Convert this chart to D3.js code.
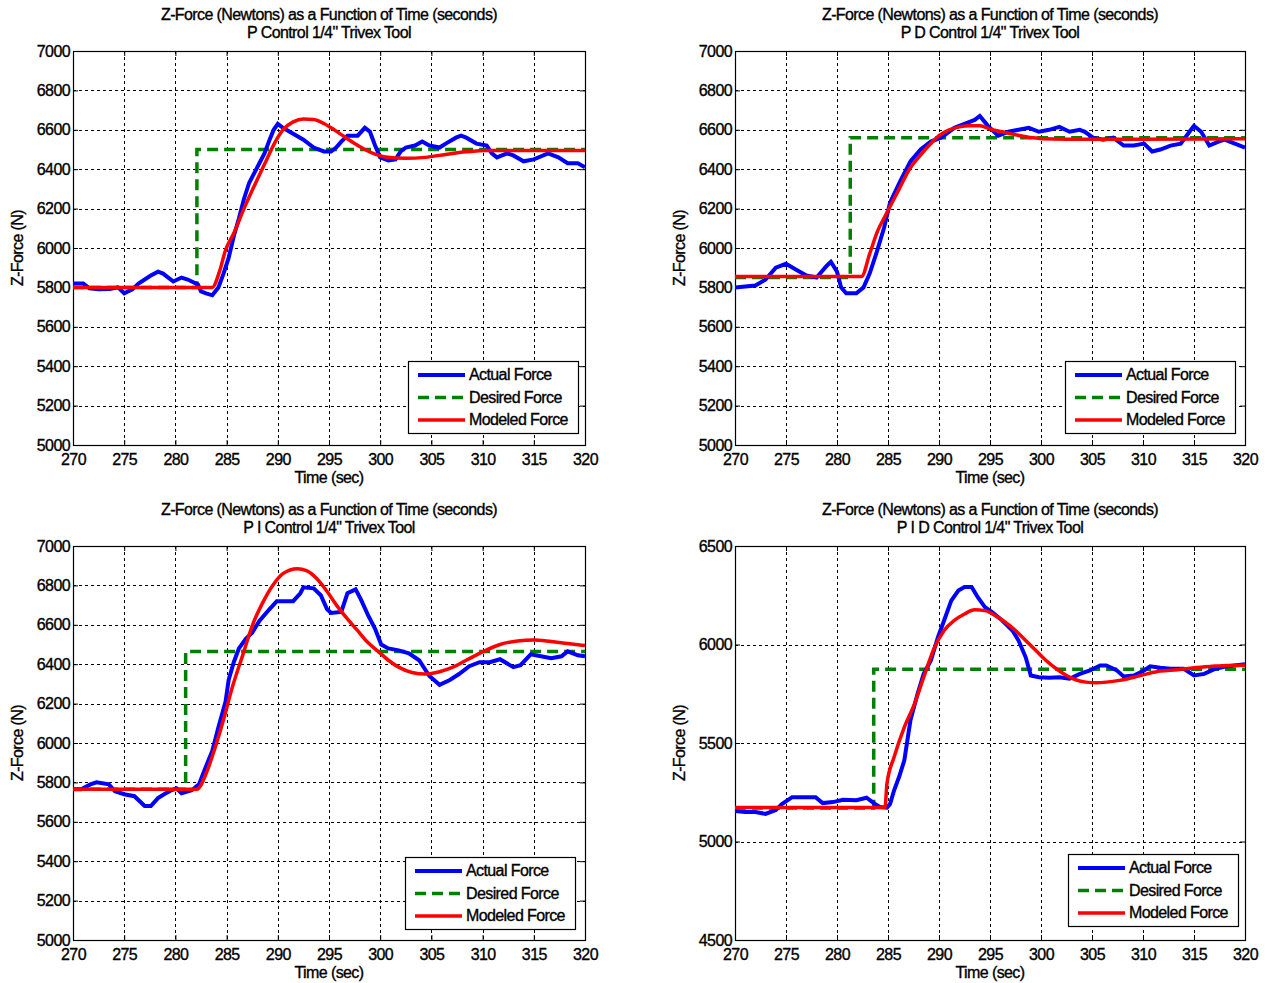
<!DOCTYPE html>
<html>
<head>
<meta charset="utf-8">
<script src="https://cdn.jsdelivr.net/npm/d3@7"></script>
<style>
  body { margin: 0; background: #fff; }
  svg text { font-family: "Liberation Sans", Arial, Helvetica, sans-serif; fill: #000;
             stroke: #000; stroke-width: 0.35px; }
</style>
</head>
<body>
<svg id="chart" width="1265" height="983"></svg>
<script>
// ---- Shared labels and ticks ----
const titleLine1 = "Z-Force (Newtons) as a Function of Time (seconds)";
const controllerTitles = ["P Control 1/4\" Trivex Tool", "P D Control 1/4\" Trivex Tool",
                          "P I Control 1/4\" Trivex Tool", "P I D Control 1/4\" Trivex Tool"];
const xLabel = "Time (sec)";
const yLabel = "Z-Force (N)";
const seriesNames = ["Actual Force", "Desired Force", "Modeled Force"];
const timeTicks = [270, 275, 280, 285, 290, 295, 300, 305, 310, 315, 320];
const forceTicksA = [5000, 5200, 5400, 5600, 5800, 6000, 6200, 6400, 6600, 6800, 7000];
const forceTicksB = [4500, 5000, 5500, 6000, 6500];

// ---- P control: [time s, force N] ----
const pActual = [[270,5820],[271,5820],[271.6,5795],[272.5,5790],[273.6,5792],[274.4,5800],[275,5770],[275.8,5790],
  [276.4,5820],[277,5840],[277.6,5860],[278.3,5880],[278.8,5870],[279.3,5850],[279.8,5830],[280.6,5850],[281.2,5840],
  [281.6,5830],[282.2,5815],[282.5,5780],[283,5770],[283.6,5760],[284.2,5800],[284.7,5870],[285.2,5950],[285.7,6060],
  [286.2,6150],[286.7,6250],[287.2,6330],[287.7,6380],[288.2,6430],[288.7,6480],[289.2,6550],[289.6,6600],[290,6630],
  [290.5,6610],[291.5,6580],[292.5,6550],[293.5,6510],[294.5,6490],[295.2,6490],[295.7,6510],[296.2,6540],[296.8,6570],
  [297.8,6570],[298.5,6610],[299,6590],[299.5,6520],[300,6460],[300.8,6445],[301.5,6450],[302,6490],[302.5,6510],
  [303.4,6520],[304.1,6540],[304.8,6520],[305.8,6510],[306.4,6530],[307.4,6560],[307.9,6570],[308.4,6560],[309.4,6530],
  [310.4,6520],[310.9,6480],[311.4,6460],[312.4,6480],[313,6470],[314,6440],[315,6450],[316.4,6480],[317.4,6460],
  [318.3,6430],[319.3,6430],[320,6410]];
const pDesired = [[270,5800],[282.1,5800],[282.1,6500],[320,6500]];
const pModel = [[270,5800],[283.6,5800],[284.3,5880],[284.9,5990],[285.7,6075],[286.7,6200],[287.7,6315],[288.7,6425],
  [289.7,6534],[290.5,6600],[291.5,6640],[292.5,6655],[293.5,6652],[294.5,6632],[295.5,6600],[296.5,6565],[297.5,6530],
  [298.5,6500],[299.5,6476],[300.5,6462],[302.5,6455],[304.4,6460],[306.4,6475],[308.4,6488],[310.4,6495],[315,6495],[320,6495]];

// ---- PD control ----
const pdActual = [[270,5800],[272,5810],[273,5840],[274,5900],[275,5920],[276,5890],[277,5860],[278,5850],[279,5910],
  [279.4,5930],[280,5880],[280.4,5800],[280.9,5770],[281.9,5770],[282.6,5800],[283.2,5870],[283.9,5980],[284.6,6100],
  [285.2,6230],[286.2,6340],[287.2,6440],[288.2,6500],[289.2,6540],[290.2,6560],[291.5,6610],[292.5,6630],[293.5,6650],
  [294,6670],[294.8,6620],[295.8,6570],[296.8,6590],[297.8,6600],[298.8,6610],[299.8,6590],[300.8,6600],[301.8,6615],
  [302.8,6590],[303.8,6600],[304.3,6590],[305.1,6560],[306.1,6550],[307.1,6560],[308.1,6520],[309.1,6520],[310.1,6530],
  [310.9,6490],[311.7,6500],[312.7,6520],[313.7,6530],[314.7,6600],[315,6620],[315.7,6590],[316.5,6520],[317.4,6540],
  [318,6550],[319,6530],[320,6510]];
const pdDesired = [[270,5850],[281.3,5850],[281.3,6560],[320,6560]];
const pdModel = [[270,5855],[282.4,5855],[283.2,5970],[283.9,6076],[284.9,6180],[286.1,6300],[287.1,6400],[288,6460],
  [289.2,6530],[290,6570],[291,6600],[292,6615],[293,6620],[294,6620],[295.2,6600],[296.2,6590],[297.2,6578],
  [299.1,6560],[300.1,6555],[305,6552],[310,6552],[320,6555]];

// ---- PI control ----
const piActual = [[270,5765],[270.8,5765],[271.7,5790],[272.3,5800],[273.5,5790],[274.1,5755],[275,5740],[276,5730],
  [277,5680],[277.6,5680],[278.3,5720],[278.9,5740],[279.6,5760],[280.1,5770],[280.6,5745],[281.6,5760],[282.3,5790],
  [282.9,5870],[283.6,5960],[284.2,6080],[284.9,6210],[285.2,6320],[285.7,6410],[286.2,6480],[286.9,6530],[287.5,6560],
  [288.2,6620],[289.2,6680],[289.9,6720],[291.5,6720],[292.2,6760],[292.5,6790],[293.5,6785],[294.2,6750],[294.8,6680],
  [295.2,6660],[296.2,6665],[296.8,6760],[297.6,6780],[298.1,6730],[298.8,6650],[299.5,6580],[300.1,6500],[300.8,6480],
  [301.8,6470],[302.8,6455],[303.8,6420],[304.8,6340],[305.8,6295],[306.8,6320],[307.7,6350],[308.7,6390],[309.7,6410],
  [310.7,6410],[311.7,6425],[313,6385],[313.7,6395],[314.7,6450],[315.7,6440],[316.7,6430],[317.7,6440],[318.3,6465],
  [319.3,6445],[320,6440]];
const piDesired = [[270,5765],[281,5765],[281,6465],[320,6465]];
const piModel = [[270,5765],[282.1,5765],[283,5845],[283.9,5980],[284.6,6100],[285.6,6290],[286.6,6450],[287.5,6595],
  [288.5,6710],[289.5,6800],[290.5,6860],[291.9,6885],[292.8,6875],[293.8,6835],[294.8,6770],[295.8,6695],[296.8,6630],
  [297.8,6570],[298.8,6510],[299.8,6465],[300.8,6420],[301.8,6385],[303.1,6358],[304.4,6350],[305.8,6362],[307.1,6385],
  [308.4,6420],[310.1,6465],[311.7,6500],[313.4,6518],[315,6523],[316.7,6515],[318.3,6505],[320,6495]];

// ---- PID control ----
const pidActual = [[270,5155],[271,5150],[272,5150],[273,5140],[274,5160],[274.6,5190],[275.6,5225],[276.6,5225],
  [277.9,5225],[278.6,5195],[279.6,5200],[280.6,5212],[281.9,5210],[282.9,5222],[283.6,5195],[284.2,5175],[284.9,5172],
  [285.2,5190],[285.6,5260],[286.1,5330],[286.6,5412],[287.2,5615],[287.9,5750],[288.5,5851],[289.2,5919],[289.9,6037],
  [290.5,6122],[291.2,6223],[291.9,6274],[292.5,6292],[293.2,6292],[293.8,6240],[294.5,6190],[295.2,6164],[296.2,6122],
  [297.2,6071],[297.8,6020],[298.5,5935],[299,5843],[299.8,5834],[300.8,5831],[301.8,5834],[302.8,5826],[303.8,5851],
  [304.8,5868],[305.8,5894],[306.4,5894],[307.4,5870],[308.1,5838],[309.1,5843],[310.1,5868],[310.7,5889],[311.7,5882],
  [312.7,5877],[314,5877],[315,5843],[316,5851],[317,5875],[318.3,5890],[320,5900]];
const pidDesired = [[270,5170],[283.6,5170],[283.6,5875],[320,5875]];
const pidModel = [[270,5172],[284.7,5172],[284.9,5294],[285.6,5429],[286.6,5581],[287.6,5699],[288.5,5834],[289.5,5978],
  [290.5,6071],[291.5,6122],[292.5,6155],[293.5,6176],[294.5,6172],[295.5,6147],[296.5,6113],[297.5,6071],[298.5,6020],
  [299.5,5970],[300.5,5919],[301.5,5877],[302.5,5843],[303.4,5821],[304.4,5809],[305.4,5806],[306.4,5809],[307.7,5818],
  [309.1,5834],[310.4,5851],[311.7,5865],[313.4,5872],[315,5882],[316.7,5889],[318.3,5894],[320,5895]];

// ---- Layout of the four axes ----
const panels = [
  { sub: controllerTitles[0], actual: pActual,   desired: pDesired,   model: pModel,   yTicks: forceTicksA,
    box: { x0: 73,  x1: 585,  y0: 51,  y1: 445 }, legend: { x: 408,  y: 361 } },
  { sub: controllerTitles[1], actual: pdActual,  desired: pdDesired,  model: pdModel,  yTicks: forceTicksA,
    box: { x0: 735, x1: 1245, y0: 51,  y1: 445 }, legend: { x: 1065, y: 361 } },
  { sub: controllerTitles[2], actual: piActual,  desired: piDesired,  model: piModel,  yTicks: forceTicksA,
    box: { x0: 73,  x1: 585,  y0: 546, y1: 940 }, legend: { x: 405,  y: 857 } },
  { sub: controllerTitles[3], actual: pidActual, desired: pidDesired, model: pidModel, yTicks: forceTicksB,
    box: { x0: 735, x1: 1245, y0: 546, y1: 940 }, legend: { x: 1068, y: 854 } }
];

const COLORS = { actual: "#0000ff", desired: "#008000", model: "#ff0000" };
const FONT = 16;
const SPACING = "-0.6px";
const svg = d3.select("#chart");

panels.forEach((p, i) => {
  const b = p.box;
  const x = d3.scaleLinear().domain([timeTicks[0], timeTicks[timeTicks.length - 1]]).range([b.x0, b.x1]);
  const y = d3.scaleLinear().domain(d3.extent(p.yTicks)).range([b.y1, b.y0]);
  const g = svg.append("g");
  const w = b.x1 - b.x0, h = b.y1 - b.y0;

  // grid (dotted)
  const grid = g.append("g").attr("stroke", "#000").attr("stroke-width", 1).attr("stroke-dasharray", "3,3");
  grid.selectAll("line.v").data(timeTicks.slice(1, -1)).join("line")
    .attr("x1", d => Math.round(x(d)) + 0.5).attr("x2", d => Math.round(x(d)) + 0.5)
    .attr("y1", b.y0).attr("y2", b.y1);
  grid.selectAll("line.h").data(p.yTicks.slice(1, -1)).join("line")
    .attr("y1", d => Math.round(y(d)) + 0.5).attr("y2", d => Math.round(y(d)) + 0.5)
    .attr("x1", b.x0).attr("x2", b.x1);

  // axes with inward ticks on all four sides
  const tickLen = 5;
  const bottom = g.append("g").attr("transform", `translate(0,${b.y1})`)
    .call(d3.axisBottom(x).tickValues(timeTicks).tickSize(-tickLen).tickPadding(9).tickFormat(d3.format("d")));
  const top = g.append("g").attr("transform", `translate(0,${b.y0})`)
    .call(d3.axisTop(x).tickValues(timeTicks).tickSize(-tickLen).tickFormat(""));
  const left = g.append("g").attr("transform", `translate(${b.x0},0)`)
    .call(d3.axisLeft(y).tickValues(p.yTicks).tickSize(-tickLen).tickPadding(3).tickFormat(d3.format("d")));
  const right = g.append("g").attr("transform", `translate(${b.x1},0)`)
    .call(d3.axisRight(y).tickValues(p.yTicks).tickSize(-tickLen).tickFormat(""));
  [bottom, top, left, right].forEach(a => {
    a.select(".domain").remove();
    a.selectAll(".tick line").attr("stroke", "#000");
    a.selectAll("text").attr("font-size", FONT).attr("letter-spacing", SPACING)
      .attr("font-family", "Liberation Sans, Arial, sans-serif");
  });
  g.append("rect").attr("x", b.x0 + 0.5).attr("y", b.y0 + 0.5).attr("width", w).attr("height", h)
    .attr("fill", "none").attr("stroke", "#000").attr("stroke-width", 1.2);

  // data lines
  const clipId = "clip" + i;
  g.append("clipPath").attr("id", clipId).append("rect")
    .attr("x", b.x0).attr("y", b.y0 - 3).attr("width", w).attr("height", h + 6);
  const plot = g.append("g").attr("clip-path", `url(#${clipId})`);
  const lin = d3.line().x(d => x(d[0])).y(d => y(d[1]));
  const smooth = d3.line().x(d => x(d[0])).y(d => y(d[1])).curve(d3.curveMonotoneX);
  plot.append("path").attr("d", lin(p.desired)).attr("fill", "none").attr("stroke", COLORS.desired)
    .attr("stroke-width", 3.5).attr("stroke-dasharray", "11,6");
  plot.append("path").attr("d", lin(p.actual)).attr("fill", "none").attr("stroke", COLORS.actual)
    .attr("stroke-width", 4).attr("stroke-linejoin", "miter");
  plot.append("path").attr("d", smooth(p.model)).attr("fill", "none").attr("stroke", COLORS.model)
    .attr("stroke-width", 3.5).attr("stroke-linejoin", "round");

  // titles and axis labels
  const cx = (b.x0 + b.x1) / 2;
  const txt = (xx, yy, s) => g.append("text").attr("x", xx).attr("y", yy).attr("text-anchor", "middle")
    .attr("font-size", FONT).attr("letter-spacing", SPACING).text(s);
  txt(cx, b.y0 - 31, titleLine1);
  txt(cx, b.y0 - 13, p.sub);
  txt(cx, b.y1 + 38, xLabel);
  g.append("text").attr("transform", `translate(${b.x0 - 50},${(b.y0 + b.y1) / 2}) rotate(-90)`)
    .attr("text-anchor", "middle").attr("font-size", FONT).attr("letter-spacing", SPACING).text(yLabel);

  // legend
  const L = p.legend, lw = 170, lh = 72;
  const lg = g.append("g").attr("transform", `translate(${L.x},${L.y})`);
  lg.append("rect").attr("x", 0.5).attr("y", 0.5).attr("width", lw).attr("height", lh)
    .attr("fill", "#fff").attr("stroke", "#000").attr("stroke-width", 1.2);
  const styles = [
    { c: COLORS.actual, dash: null, wdt: 4 },
    { c: COLORS.desired, dash: "11,6", wdt: 3.5 },
    { c: COLORS.model, dash: null, wdt: 3.5 }
  ];
  seriesNames.forEach((name, k) => {
    const ry = 14 + k * 22.5;
    lg.append("line").attr("x1", 10).attr("x2", 57).attr("y1", ry).attr("y2", ry)
      .attr("stroke", styles[k].c).attr("stroke-width", styles[k].wdt)
      .attr("stroke-dasharray", styles[k].dash);
    lg.append("text").attr("x", 61).attr("y", ry + 5).attr("font-size", FONT)
      .attr("letter-spacing", SPACING).text(name);
  });
});
</script>
</body>
</html>
